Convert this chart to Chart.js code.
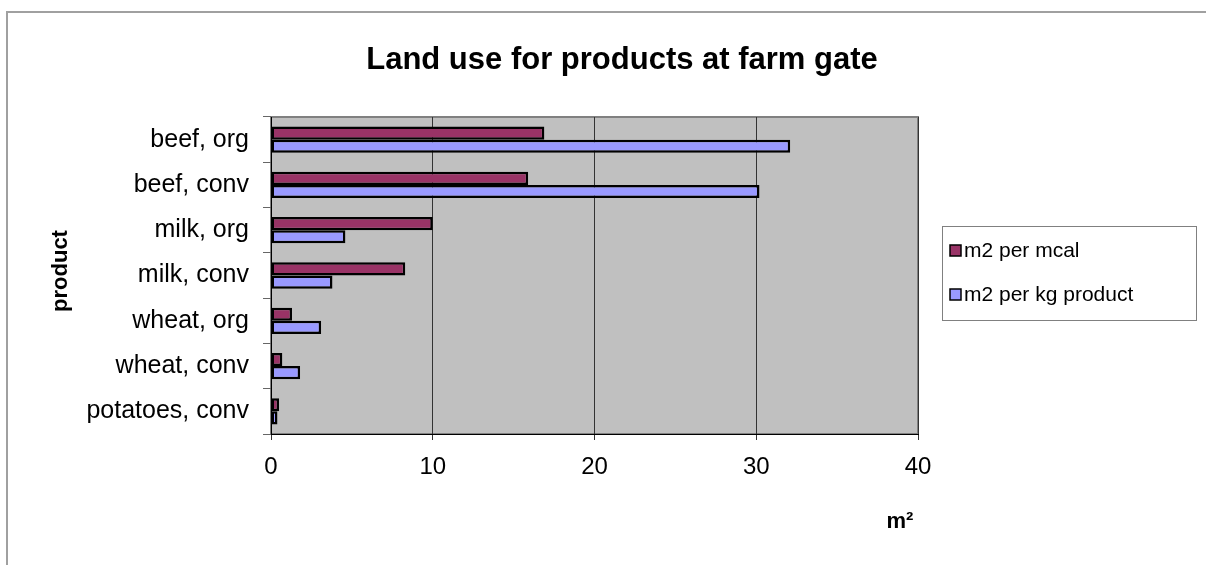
<!DOCTYPE html>
<html>
<head>
<meta charset="utf-8">
<script src="https://cdn.jsdelivr.net/npm/chart.js@4/dist/chart.umd.min.js"></script>
<style>
html,body{margin:0;padding:0;background:#fff;}
canvas{display:block;}
</style>
</head>
<body>
<canvas id="c" width="1206" height="565"></canvas>
<script>
const categories = ["beef, org","beef, conv","milk, org","milk, conv","wheat, org","wheat, conv","potatoes, conv"];
const perMcal = [16.9, 15.9, 10.0, 8.3, 1.3, 0.7, 0.5];
const perKg = [32.1, 30.2, 4.6, 3.8, 3.1, 1.8, 0.4];
const seriesNames = ["m2 per mcal","m2 per kg product"];
const xTicks = [0, 10, 20, 30, 40];
const chartTitle = "Land use for products at farm gate";
const yTitle = "product";
const xTitle = "m²";

const FONT = "Arial, 'Liberation Sans', sans-serif";

const decor = {
  id: 'decor',
  beforeDraw(chart) {
    const ctx = chart.ctx, a = chart.chartArea;
    ctx.save();
    ctx.fillStyle = '#fff';
    ctx.fillRect(0, 0, chart.width, chart.height);
    ctx.strokeStyle = '#a0a0a0';
    ctx.lineWidth = 2;
    ctx.beginPath();
    ctx.moveTo(7, 565); ctx.lineTo(7, 12); ctx.lineTo(1206, 12);
    ctx.stroke();
    ctx.fillStyle = '#C0C0C0';
    ctx.fillRect(a.left, a.top, a.right - a.left, a.bottom - a.top);
    ctx.strokeStyle = '#808080';
    ctx.lineWidth = 2;
    ctx.strokeRect(a.left, a.top, a.right - a.left, a.bottom - a.top);
    ctx.restore();
  },
  afterDraw(chart) {
    const ctx = chart.ctx, a = chart.chartArea;
    ctx.save();
    ctx.fillStyle = '#000';
    ctx.font = "bold 31px " + FONT;
    ctx.textAlign = 'center';
    ctx.textBaseline = 'middle';
    ctx.fillText(chartTitle, 622, 60);
    ctx.font = "bold 22px " + FONT;
    ctx.fillText(xTitle, 900, 522);
    ctx.save();
    ctx.translate(61, 271);
    ctx.rotate(-Math.PI / 2);
    ctx.font = "bold 22px " + FONT;
    ctx.fillText(yTitle, 0, 0);
    ctx.restore();
    const lx = 942, ly = 226, lw = 254, lh = 94;
    ctx.strokeStyle = '#808080';
    ctx.lineWidth = 1;
    ctx.strokeRect(lx + 0.5, ly + 0.5, lw, lh);
    ctx.font = "21px " + FONT;
    ctx.textAlign = 'left';
    chart.data.datasets.forEach((ds, i) => {
      const cy = ly + 25 + i * 44;
      ctx.fillStyle = ds.backgroundColor;
      ctx.fillRect(lx + 8, cy - 6, 11, 11);
      ctx.strokeStyle = '#000';
      ctx.lineWidth = 1.5;
      ctx.strokeRect(lx + 8, cy - 6, 11, 11);
      ctx.fillStyle = '#000';
      ctx.fillText(ds.label, lx + 22, cy);
    });
    ctx.restore();
  }
};

new Chart(document.getElementById('c'), {
  type: 'bar',
  data: {
    labels: categories,
    datasets: [
      { label: seriesNames[0], data: perMcal, backgroundColor: '#993366', borderColor: '#000', borderWidth: 2.5, borderSkipped: false },
      { label: seriesNames[1], data: perKg, backgroundColor: '#9999FF', borderColor: '#000', borderWidth: 2.5, borderSkipped: false }
    ]
  },
  options: {
    indexAxis: 'y',
    responsive: false,
    animation: false,
    devicePixelRatio: 1,
    layout: { padding: { left: 0, top: 117, right: 288, bottom: 71 } },
    datasets: { bar: { barPercentage: 1, categoryPercentage: 0.58 } },
    plugins: { legend: { display: false }, title: { display: false }, tooltip: { enabled: false } },
    scales: {
      x: {
        min: 0, max: 40,
        afterFit(s) { s.height = 60; },
        afterBuildTicks(s) { s.ticks = xTicks.map(v => ({ value: v })); },
        grid: { color: '#333', lineWidth: 1, tickLength: 6, drawOnChartArea: true },
        border: { color: '#000', width: 1 },
        ticks: { color: '#000', font: { family: FONT, size: 24 }, padding: 13 }
      },
      y: {
        afterFit(s) { s.width = 271; },
        grid: { color: '#666', tickLength: 8, drawOnChartArea: false, offset: true },
        border: { color: '#000', width: 1 },
        ticks: { color: '#000', font: { family: FONT, size: 25 }, padding: 14 }
      }
    }
  },
  plugins: [decor]
});
</script>
</body>
</html>
